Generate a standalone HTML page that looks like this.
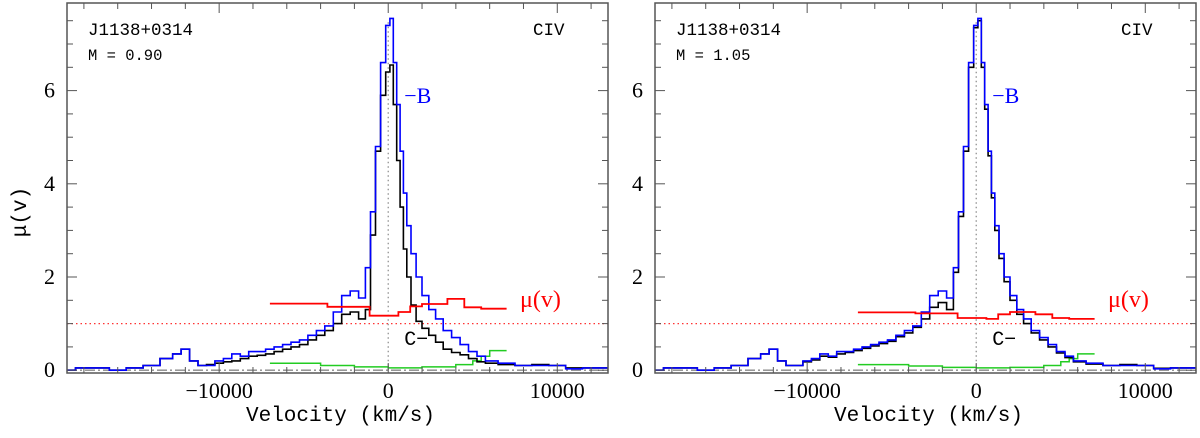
<!DOCTYPE html>
<html><head><meta charset="utf-8"><style>
body{margin:0;background:#fff;width:1200px;height:433px;overflow:hidden}
svg text{font-family:"Liberation Serif",serif}
svg text.mono{font-family:"Liberation Mono",monospace}
</style></head><body>
<svg id="chart" width="1200" height="433" xmlns="http://www.w3.org/2000/svg"></svg>
<script>
const vB=[-19000,-18000,-17000,-16000,-15000,-14000,-13000,-12500,-12000,-11500,-11000,-10500,-10000,-9500,-9000,-8500,-8000,-7500,-7000,-6500,-6000,-5500,-5000,-4500,-4000,-3500,-3000,-2500,-2000,-1500,-1200,-900,-600,-300,0,200,400,600,800,1000,1200,1500,1800,2200,2600,3000,3500,4000,4500,5000,5500,6000,7000,8000,9000,10000,11000,12000,13000];
const blueL=[0.0,0.05,0.05,0.0,0.05,0.1,0.25,0.35,0.45,0.2,0.1,0.1,0.2,0.25,0.35,0.3,0.4,0.4,0.45,0.5,0.55,0.6,0.65,0.75,0.85,0.95,1.25,1.6,1.7,1.55,2.2,3.4,4.8,6.6,7.4,7.55,6.6,5.7,4.7,3.8,3.1,2.5,2.0,1.6,1.3,1.1,0.85,0.7,0.55,0.4,0.3,0.2,0.15,0.1,0.1,0.1,0.03,0.05,0.05];
const blackL=[0.0,0.05,0.05,0.0,0.05,0.1,0.25,0.35,0.45,0.2,0.1,0.12,0.15,0.18,0.2,0.25,0.3,0.32,0.35,0.4,0.45,0.5,0.55,0.65,0.75,0.85,1.0,1.2,1.25,1.1,1.3,2.9,4.7,5.9,6.4,6.55,5.7,4.5,3.5,2.6,2.0,1.4,1.05,0.9,0.75,0.6,0.45,0.38,0.33,0.25,0.18,0.15,0.12,0.1,0.12,0.1,0.05,0.05,0.05];
const blueR=blueL;
const blackR=[0.0,0.05,0.05,0.0,0.05,0.1,0.25,0.35,0.45,0.2,0.1,0.1,0.18,0.22,0.3,0.28,0.35,0.38,0.42,0.47,0.52,0.57,0.62,0.72,0.8,0.92,1.1,1.35,1.45,1.3,2.1,3.3,4.7,6.5,7.35,7.5,6.5,5.6,4.6,3.7,3.0,2.4,1.9,1.5,1.2,1.0,0.8,0.65,0.5,0.37,0.27,0.18,0.13,0.1,0.12,0.1,0.04,0.05,0.05];
const vMu=[-7000,-3600,-1100,600,1300,2000,3500,4500,5500,7000];
const muL=[1.43,1.36,1.17,1.25,1.37,1.42,1.53,1.35,1.32,1.32];
const muR=[1.24,1.22,1.12,1.1,1.2,1.25,1.2,1.12,1.1,1.1];
const vG=[-7000,-4000,-2000,0,2000,4000,5000,5500,6000,7000];
const greenL=[0.15,0.1,0.07,0.05,0.07,0.12,0.2,0.3,0.42,0.42];
const greenR=[0.12,0.09,0.06,0.05,0.06,0.1,0.18,0.25,0.35,0.35];
const panels=[{x0:67,x1:608,blue:blueL,black:blackL,mu:muL,green:greenL,m:"0.90"},{x0:655,x1:1196,blue:blueR,black:blackR,mu:muR,green:greenR,m:"1.05"}];
const svg=document.getElementById('chart');const NS="http://www.w3.org/2000/svg";
function mk(t,a,p){const e=document.createElementNS(NS,t);for(const k in a)e.setAttribute(k,a[k]);(p||svg).appendChild(e);return e;}
const yT=3,yB=373,ymin=-0.06,ymax=7.88,vmin=-19000,vmax=13000;
panels.forEach((P,i)=>{
 const g=mk('g',{});
 
 
 const X=v=>P.x0+(v-vmin)/(vmax-vmin)*(P.x1-P.x0);
 const Y=u=>yB-(u-ymin)/(ymax-ymin)*(yB-yT);
 const step=(vs,ys,col,w,name,centered)=>{let d='';const n=ys.length;
  for(let k=0;k<n;k++){let a,b;
   if(centered){a=k?(vs[k-1]+vs[k])/2:vs[k];b=k+1<n?(vs[k]+vs[k+1])/2:vs[k];}
   else{a=vs[k];b=k+1<n?vs[k+1]:vs[k];}
   const xa=Math.max(P.x0,X(a)),xb=Math.min(P.x1,X(b));
   d+=(k?'L':'M')+xa.toFixed(1)+','+Y(ys[k]).toFixed(1)+'L'+xb.toFixed(1)+','+Y(ys[k]).toFixed(1);}
  const p=mk('path',{d:d,fill:'none',stroke:col,'stroke-width':w},g);
  
  };
 mk('line',{x1:P.x0,x2:P.x1,y1:Y(1),y2:Y(1),stroke:'#f33','stroke-width':1.2,'stroke-dasharray':'1.5,3'},g);
 mk('line',{x1:P.x0,x2:P.x1,y1:Y(0),y2:Y(0),stroke:'#888','stroke-width':1.3,'stroke-dasharray':'10,3,2,3'},g);
 mk('line',{x1:X(0),x2:X(0),y1:Y(0),y2:Y(7.5),stroke:'#888','stroke-width':1.2,'stroke-dasharray':'1.5,3'},g);
 step(vG,P.green,'#2c2',1.5,'green-series',false);
 step(vB,P.black,'#000',1.6,'c-series',true);
 step(vB,P.blue,'#00f',1.6,'b-series',true);
 step(vMu,P.mu,'#f00',1.8,'mu-series',false);
 mk('rect',{x:P.x0,y:yT,width:P.x1-P.x0,height:yB-yT,fill:'none',stroke:'#555','stroke-width':1.5},g);
 for(let v=-18000;v<=12000;v+=2000){const maj=v%10000===0,L=maj?10:6;
  mk('line',{x1:X(v),x2:X(v),y1:yB,y2:yB-L,stroke:'#555'},g);mk('line',{x1:X(v),x2:X(v),y1:yT,y2:yT+L,stroke:'#555'},g);
  if(maj){const t=mk('text',{x:X(v),y:yB+25,'text-anchor':'middle','font-size':22},g);t.textContent=v<0?'\u2212'+(-v):''+v;
   
   }}
 for(let u=0;u<=7.5;u+=0.5){const maj=u%2===0,L=maj?10:6;
  mk('line',{x1:P.x0,x2:P.x0+L,y1:Y(u),y2:Y(u),stroke:'#555'},g);mk('line',{x1:P.x1,x2:P.x1-L,y1:Y(u),y2:Y(u),stroke:'#555'},g);
  if(maj){const t=mk('text',{x:P.x0-12,y:Y(u)+7,'text-anchor':'end','font-size':22},g);t.textContent=u;
   
   }}
 const tx=(s,x,y,sz,col,name,anc,cls)=>{const t=mk('text',{x:x,y:y,'font-size':sz,fill:col,'text-anchor':anc||'start'},g);t.textContent=s;
  if(cls)t.setAttribute('class',cls);
  
  return t;};
 tx('J1138+0314',P.x0+21,35,17.5,'#000','object-name','start','mono');
 tx('M = '+P.m,P.x0+21,60,15.5,'#000','m-value','start','mono');
 tx('CIV',P.x1-75,35,17.5,'#000','line-label','start','mono');
 tx('\u2212B',X(0)+16,103,22,'#00f','b-label');
 tx('C\u2212',X(0)+16,345,20,'#000','c-label','start','mono');
 tx('\u03bc(v)',P.x1-88,307,24,'#f00','mu-label');
 tx('Velocity (km/s)',(P.x0+P.x1)/2+3,421,21,'#000','x-axis-title','middle','mono');
});
const yl=mk('text',{x:0,y:0,'font-size':21,transform:'translate(26,212) rotate(-90)','text-anchor':'middle','class':'mono'});yl.textContent='\u03bc(v)';


</script>
</body></html>
